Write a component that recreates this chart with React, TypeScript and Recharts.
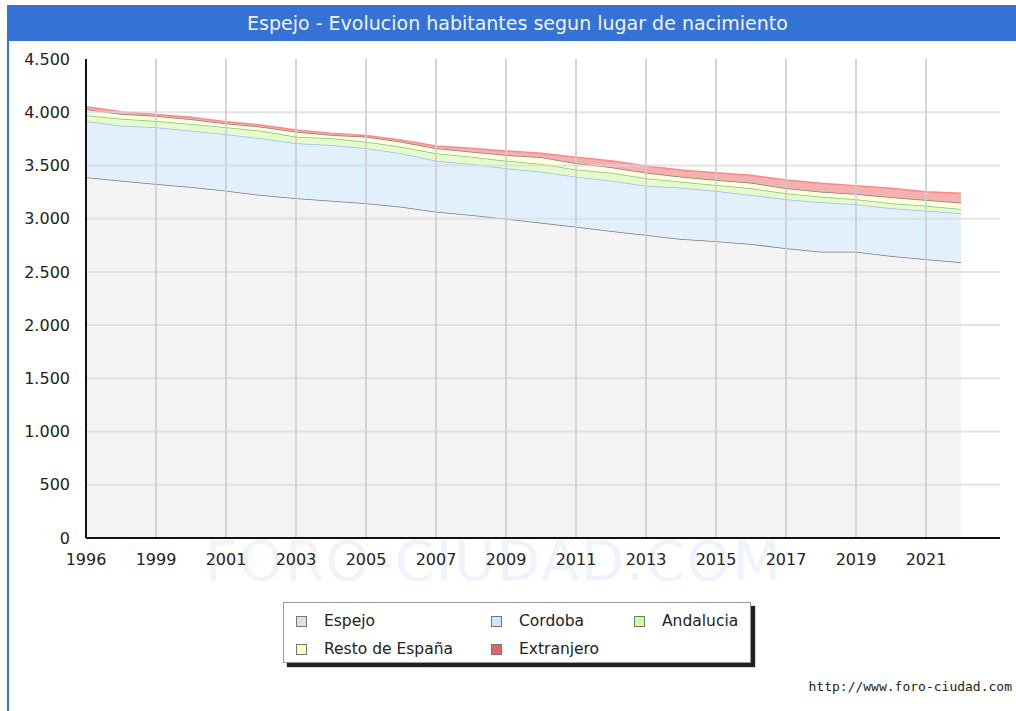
import React from "react";
import { AreaChart, Area, XAxis, YAxis, ReferenceLine } from "recharts";

// years in the source (1997 is missing, so the axis is categorical)
const years = [
  1996, 1998, 1999, 2000, 2001, 2002, 2003, 2004, 2005, 2006, 2007, 2008, 2009,
  2010, 2011, 2012, 2013, 2014, 2015, 2016, 2017, 2018, 2019, 2020, 2021, 2022,
];
const espejo = [
  3390, 3356, 3325, 3297, 3263, 3222, 3191, 3169, 3144, 3112, 3065, 3034, 3000,
  2962, 2924, 2884, 2846, 2809, 2787, 2762, 2721, 2690, 2690, 2649, 2618, 2590,
];
const cordoba = [
  527, 517, 533, 529, 529, 533, 517, 523, 517, 502, 479, 479, 473,
  479, 470, 473, 464, 482, 473, 460, 461, 464, 445, 448, 457, 460,
];
const andalucia = [
  54, 65, 59, 63, 66, 71, 62, 63, 62, 62, 70, 69, 72,
  72, 69, 75, 69, 56, 56, 63, 56, 53, 47, 47, 47, 41,
];
const restoEspana = [
  56, 45, 47, 44, 37, 38, 47, 31, 47, 47, 47, 47, 53,
  64, 57, 51, 53, 47, 47, 53, 47, 46, 50, 57, 53, 59,
];
const extranjero = [
  25, 22, 15, 19, 16, 16, 16, 16, 12, 16, 21, 32, 38,
  37, 57, 62, 62, 63, 69, 69, 78, 79, 78, 84, 78, 88,
];
const tickYears = [1996, 1999, 2001, 2003, 2005, 2007, 2009, 2011, 2013, 2015, 2017, 2019, 2021];
const yTicks = [0, 500, 1000, 1500, 2000, 2500, 3000, 3500, 4000, 4500];

const series = [
  { key: "espejo", name: "Espejo", stroke: "#7a7a7a", fill: "#f4f4f4", swatch: "#e0e0e0" },
  { key: "cordoba", name: "Cordoba", stroke: "#99bbee", fill: "#e2f0fe", swatch: "#cce6ff" },
  { key: "andalucia", name: "Andalucia", stroke: "#80c080", fill: "#e6fccc", swatch: "#ccff99" },
  { key: "resto", name: "Resto de España", stroke: "#808080", fill: "#ffffdd", swatch: "#ffffc0" },
  { key: "extranjero", name: "Extranjero", stroke: "#ff8888", fill: "#f5b0b0", swatch: "#e06666" },
];

const data = years.map((year, i) => ({
  year,
  espejo: espejo[i],
  cordoba: cordoba[i],
  andalucia: andalucia[i],
  resto: restoEspana[i],
  extranjero: extranjero[i],
}));

const font = "'DejaVu Sans', Verdana, sans-serif";
const fmt = (v: number) => v.toLocaleString("de-DE");

const legendCols = [12, 207, 350];
const legendRows = [18, 46];

export default function App() {
  return (
    <div style={{ position: "absolute", left: 0, top: 0, width: 1016, height: 711, background: "#fff", fontFamily: font }}>
      <div style={{ position: "absolute", left: 7, top: 5, width: 2, height: 706, background: "#3572d6" }} />
      <div
        style={{
          position: "absolute", left: 19, top: 5, width: 997, height: 36, background: "#3572d6",
          color: "#eef3fb", fontSize: 19, lineHeight: "36px", textAlign: "center",
        }}
      >
        Espejo - Evolucion habitantes segun lugar de nacimiento
      </div>
      <div style={{ position: "absolute", left: 7, top: 5, width: 12, height: 36, background: "#3572d6" }} />
      <div
        style={{
          position: "absolute", left: 205, top: 528, fontSize: 56, letterSpacing: 1.8,
          whiteSpace: "nowrap", lineHeight: "66px",
        }}
      >
        <span style={{ color: "#f3f3f3" }}>FORO-</span>
        <span style={{ color: "#eff3fb" }}>CIUDAD.COM</span>
      </div>
      <div style={{ position: "absolute", left: 0, top: 0 }}>
        <AreaChart width={1016} height={711} data={data} margin={{ top: 59, right: 16, bottom: 143, left: 0 }}>
          <XAxis
            dataKey="year"
            type="category"
            ticks={tickYears}
            interval={0}
            height={30}
            padding={{ left: 0, right: 39 }}
            tickLine={false}
            tickSize={6}
            tickMargin={10}
            axisLine={{ stroke: "#111", strokeWidth: 2 }}
            tick={{ fill: "#222", fontSize: 16, fontFamily: font }}
          />
          <XAxis xAxisId="top" dataKey="year" orientation="top" height={0} tick={false} tickLine={false}
            axisLine={{ stroke: "#444", strokeWidth: 2 }} />
          <YAxis
            domain={[0, 4500]}
            ticks={yTicks}
            width={86}
            tickLine={false}
            tickSize={6}
            tickMargin={10}
            tickFormatter={fmt}
            axisLine={{ stroke: "#111", strokeWidth: 2 }}
            tick={{ fill: "#222", fontSize: 16, fontFamily: font }}
          />
          <YAxis yAxisId="right" orientation="right" width={0} domain={[0, 4500]} tick={false} tickLine={false}
            axisLine={{ stroke: "#444", strokeWidth: 2 }} />
          {series.map((s) => (
            <Area
              key={s.key}
              dataKey={s.key}
              name={s.name}
              stackId="1"
              type="linear"
              stroke={s.stroke}
              strokeWidth={1.5}
              fill={s.fill}
              fillOpacity={1}
              isAnimationActive={false}
            />
          ))}
          {yTicks.slice(1, -1).map((v) => (
            <ReferenceLine key={"h" + v} y={v} stroke="#d8d8d8" strokeOpacity={0.7} strokeWidth={2} />
          ))}
          {tickYears.slice(1).map((y) => (
            <ReferenceLine key={"v" + y} x={y} stroke="#cccccc" strokeOpacity={0.8} strokeWidth={2} />
          ))}
        </AreaChart>
      </div>
      <div
        style={{
          position: "absolute", left: 283, top: 602, width: 466, height: 59, background: "#fff",
          border: "1px solid #999", boxShadow: "4px 4px 1px #222",
        }}
      >
        {series.map((s, i) => (
          <div
            key={s.key}
            style={{
              position: "absolute", left: legendCols[i % 3], top: legendRows[Math.floor(i / 3)] - 10,
              height: 20, display: "flex", alignItems: "center", whiteSpace: "nowrap",
            }}
          >
            <span style={{ width: 9, height: 9, background: s.swatch, border: "1px solid #777", display: "inline-block" }} />
            <span style={{ marginLeft: 17, fontSize: 15.5, color: "#222" }}>{s.name}</span>
          </div>
        ))}
      </div>
      <div
        style={{
          position: "absolute", right: 4, top: 679, fontSize: 13, color: "#222",
          fontFamily: "'DejaVu Sans Mono', monospace",
        }}
      >
        http://www.foro-ciudad.com
      </div>
    </div>
  );
}
